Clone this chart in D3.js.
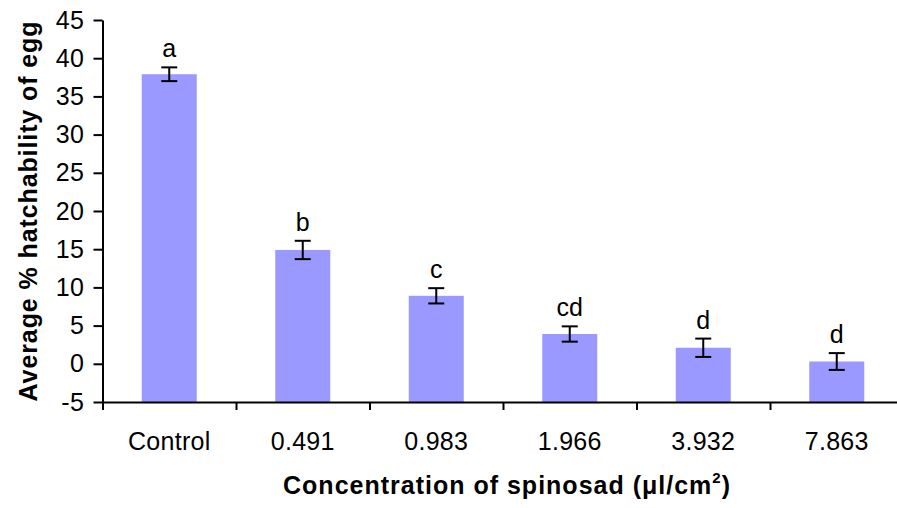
<!DOCTYPE html>
<html>
<head>
<meta charset="utf-8">
<script src="https://cdn.jsdelivr.net/npm/d3@7"></script>
<style>
  body { margin: 0; background: white; }
  text { font-family: "Liberation Sans", Arial, sans-serif; }
</style>
</head>
<body>
<div id="chart"></div>
<script>
// data
let doses = ["Control", "0.491", "0.983", "1.966", "3.932", "7.863"];
let hatch = [37.9, 14.9, 8.9, 3.9, 2.1, 0.3];
let errs = [0.9, 1.2, 1.0, 1.0, 1.2, 1.1];
let letters = ["a", "b", "c", "cd", "d", "d"];
let yTicks = [-5, 0, 5, 10, 15, 20, 25, 30, 35, 40, 45];

let w = 897
let h = 508

let viz = d3.select("#chart")
  .append("svg")
    .attr("width", w)
    .attr("height", h)
    .style("background-color", "white")
;

//scales
let x = d3.scaleBand().domain(doses).range([102.5, 903.5]).paddingInner(0).paddingOuter(0);
let xEdge = d3.scaleLinear().domain([0, doses.length]).range([102.5, 903.5]);
let y = d3.scaleLinear().domain([-5, 45]).range([402, 20]);
let barW = 55;

//bars
viz.selectAll(".bar")
  .data(hatch)
  .enter()
  .append("rect")
    .attr("class", "bar")
    .attr("x", (d, i) => x(doses[i]) + x.bandwidth() / 2 - barW / 2)
    .attr("y", d => y(d))
    .attr("width", barW)
    .attr("height", d => y(-5) - y(d))
    .attr("fill", "#9999ff")
;

//error bars
let eg = viz.selectAll(".err")
  .data(hatch)
  .enter()
  .append("g")
    .attr("class", "err")
    .attr("transform", (d, i) => "translate(" + (x(doses[i]) + x.bandwidth() / 2) + ",0)")
;
eg.append("line")
  .attr("x1", 0).attr("x2", 0)
  .attr("y1", (d, i) => y(d + errs[i]))
  .attr("y2", (d, i) => y(d - errs[i]));
eg.append("line")
  .attr("x1", -8).attr("x2", 8)
  .attr("y1", (d, i) => y(d + errs[i]))
  .attr("y2", (d, i) => y(d + errs[i]));
eg.append("line")
  .attr("x1", -8).attr("x2", 8)
  .attr("y1", (d, i) => y(d - errs[i]))
  .attr("y2", (d, i) => y(d - errs[i]));
eg.selectAll("line").attr("stroke", "black").attr("stroke-width", 2);

//letters
eg.append("text")
  .text((d, i) => letters[i])
  .attr("x", 0)
  .attr("y", (d, i) => y(d + errs[i]) - 10)
  .attr("text-anchor", "middle")
  .attr("font-size", "25")
  .attr("fill", "black");

//y axis
let yAxis = viz.append("g")
  .attr("transform", "translate(102.5,0)")
  .call(d3.axisLeft(y).tickValues(yTicks).tickFormat(d => String(d)).tickSize(9).tickPadding(9).tickSizeOuter(0));
yAxis.selectAll("text")
  .attr("font-size", "25")
  .attr("font-family", "Liberation Sans, Arial, sans-serif")
  .attr("letter-spacing", "0.5")
  .attr("fill", "black");

//x axis: marks at the band edges, labels at the centres
let xAxis = viz.append("g")
  .attr("transform", "translate(0,402)")
  .call(d3.axisBottom(xEdge).tickValues(d3.range(doses.length + 1)).tickFormat("").tickSize(8).tickSizeOuter(0));

viz.selectAll(".xlab")
  .data(doses)
  .enter()
  .append("text")
    .attr("class", "xlab")
    .text(d => d)
    .attr("x", d => x(d) + x.bandwidth() / 2)
    .attr("y", 450)
    .attr("text-anchor", "middle")
    .attr("font-size", "25")
    .attr("letter-spacing", "0.3")
    .attr("fill", "black");

viz.selectAll(".domain, .tick line").attr("stroke", "black").attr("stroke-width", 2);

//axis titles
viz.append("text")
  .text("Average % hatchability of egg")
  .attr("transform", "translate(37,211) rotate(-90)")
  .attr("text-anchor", "middle")
  .attr("font-size", "25")
  .attr("font-weight", "bold")
  .attr("letter-spacing", "0.9")
  .attr("fill", "black");

let xt = viz.append("text")
  .attr("x", 507)
  .attr("y", 494)
  .attr("text-anchor", "middle")
  .attr("font-size", "25")
  .attr("font-weight", "bold")
  .attr("letter-spacing", "1")
  .attr("fill", "black");
xt.append("tspan").text("Concentration of spinosad (\u03bcl/cm");
xt.append("tspan").text("2").attr("font-size", "15").attr("dy", -11);
xt.append("tspan").text(")").attr("dy", 11);
</script>
</body>
</html>
